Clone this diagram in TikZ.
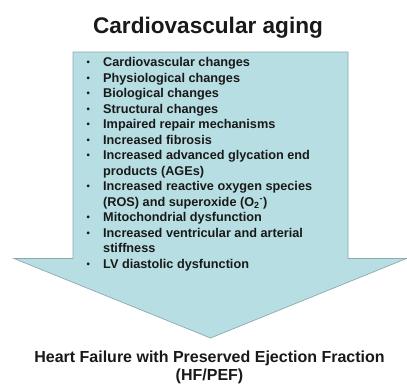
\documentclass[tikz,border=0pt]{standalone}
\usepackage{fontspec}
\setmainfont{Liberation Sans}
\usepackage{array}
\definecolor{arrowfill}{RGB}{183,222,226}
\definecolor{arrowline}{RGB}{140,170,173}
\definecolor{txt}{RGB}{25,25,25}
\newcommand{\bul}{\hspace{0.5pt}{\fontsize{9.5}{9.5}\selectfont\raisebox{1.2pt}{\textbullet}}}
\begin{document}
\begin{tikzpicture}[x=1pt,y=-1pt,
  titletext/.style={font=\bfseries\fontsize{22.6}{26}\selectfont, text=txt, inner sep=0pt, anchor=base},
  listtext/.style={font=\bfseries\fontsize{12.7}{15.5}\selectfont, text=txt, inner sep=0pt, anchor=base west},
  bottomtext/.style={font=\bfseries\fontsize{16}{18.5}\selectfont, text=txt, inner sep=0pt, anchor=base},
  bigarrow/.style={fill=arrowfill, draw=arrowline, line width=0.7pt, line join=miter}]
\useasboundingbox (0,0) rectangle (407,383);
\fill[white] (0,0) rectangle (407,383);
\draw[bigarrow] (73,52) -- (348,52) -- (348,258.5) -- (406.5,258.5) -- (210.5,338) -- (14,258.5) -- (73,258.5) -- cycle;
\node[titletext] (title) at (208,33) {Cardiovascular aging};
\node[listtext] (list) at (86,66.7) {%
\begin{tabular}[t]{@{}p{17pt}@{}l@{}}
\bul & Cardiovascular changes\\
\bul & Physiological changes\\
\bul & Biological changes\\
\bul & Structural changes\\
\bul & Impaired repair mechanisms\\
\bul & Increased fibrosis\\
\bul & Increased advanced glycation end\\
     & products (AGEs)\\
\bul & Increased reactive oxygen species\\
     & (ROS) and superoxide (O\textsubscript{2}\textsuperscript{-})\\
\bul & Mitochondrial dysfunction\\
\bul & Increased ventricular and arterial\\
     & stiffness\\
\bul & LV diastolic dysfunction
\end{tabular}};
\node[bottomtext] (hfpef) at (209.5,362) {%
\begin{tabular}[t]{@{}c@{}}
Heart Failure with Preserved Ejection Fraction\\
(HF/PEF)
\end{tabular}};
\end{tikzpicture}
\end{document}
